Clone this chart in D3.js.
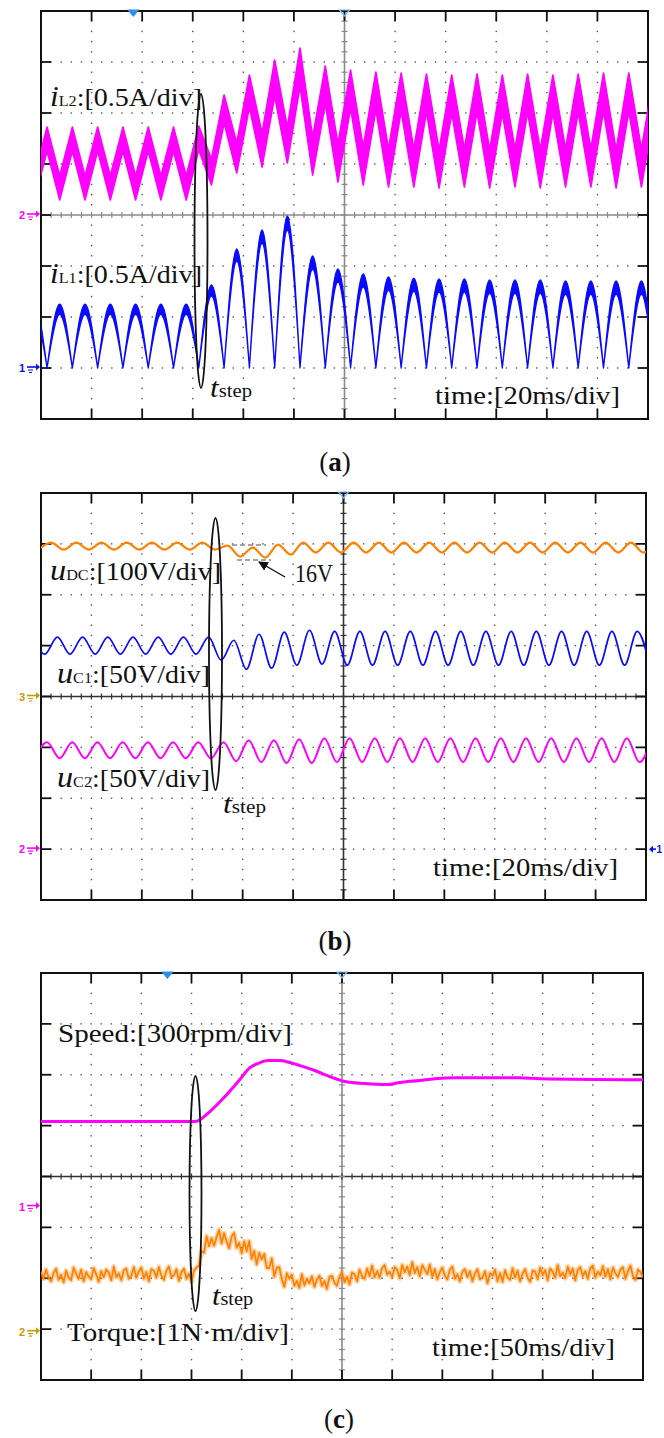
<!DOCTYPE html>
<html>
<head>
<meta charset="utf-8">
<title>Step response waveforms</title>
<script src="https://cdn.jsdelivr.net/npm/d3@7/dist/d3.min.js"></script>
<style>
  html, body { margin: 0; padding: 0; background: #fff; }
  svg { display: block; }
</style>
</head>
<body>
<svg id="fig" width="664" height="1438"></svg>
<script>
// ---------- (a) inductor currents [A], 20 ms/div ----------
// iL2: ripple band, centre value at each peak / trough
const iL2Time = [-2.6, 2.4, 7.4, 12.4, 17.4, 22.4, 27.4, 32.4, 37.4, 42.4, 47.4, 52.4, 57.4, 62.4, 67.4, 72.4, 77.4, 82.4, 87.4, 92.4, 97.4, 102.4, 107.4, 112.4, 117.4, 122.4, 127.4, 132.4, 137.4, 142.4, 147.4, 152.4, 157.4, 162.4, 167.4, 172.4, 177.4, 182.4, 187.4, 192.4, 197.4, 202.4, 207.4, 212.4, 217.4, 222.4, 227.4, 232.4, 237.4, 242.4];
const iL2Value = [0.265, 0.745, 0.265, 0.745, 0.265, 0.745, 0.265, 0.745, 0.265, 0.745, 0.265, 0.745, 0.265, 0.755, 0.422, 1.039, 0.559, 1.216, 0.637, 1.343, 0.686, 1.451, 0.578, 1.275, 0.510, 1.235, 0.480, 1.216, 0.461, 1.206, 0.461, 1.196, 0.451, 1.186, 0.461, 1.196, 0.451, 1.186, 0.461, 1.196, 0.451, 1.186, 0.461, 1.196, 0.461, 1.206, 0.451, 1.206, 0.461, 1.196];
const iL2Ripple = [0.235, 0.235, 0.235, 0.235, 0.235, 0.235, 0.235, 0.235, 0.235, 0.235, 0.235, 0.235, 0.235, 0.235, 0.255, 0.275, 0.294, 0.314, 0.333, 0.353, 0.353, 0.373, 0.373, 0.373, 0.373, 0.373, 0.373, 0.373, 0.373, 0.373, 0.373, 0.373, 0.373, 0.373, 0.373, 0.373, 0.373, 0.373, 0.373, 0.373, 0.373, 0.373, 0.373, 0.373, 0.373, 0.373, 0.373, 0.373, 0.373, 0.373];
// iL1: rectified arches between zero crossings
const iL1Cusp = [-7.6, 2.4, 12.4, 22.4, 32.4, 42.4, 52.4, 62.4, 72.4, 82.4, 92.4, 102.4, 112.4, 122.4, 132.4, 142.4, 152.4, 162.4, 172.4, 182.4, 192.4, 202.4, 212.4, 222.4, 232.4, 242.4];
const iL1Peak = [0.627, 0.627, 0.627, 0.627, 0.627, 0.627, 0.627, 0.814, 1.167, 1.353, 1.490, 1.098, 0.971, 0.922, 0.892, 0.882, 0.873, 0.873, 0.863, 0.863, 0.863, 0.853, 0.853, 0.853, 0.853];
const iL1Ripple = [0.10, 0.10, 0.10, 0.10, 0.10, 0.10, 0.10, 0.11, 0.12, 0.13, 0.14, 0.13, 0.13, 0.13, 0.13, 0.13, 0.13, 0.13, 0.13, 0.13, 0.13, 0.13, 0.13, 0.13, 0.13];

// ---------- (b) voltages [V], 20 ms/div ----------
const uDCTime = [-1, 4, 9, 14, 19, 24, 29, 34, 39, 44, 49, 54, 59, 64, 69, 74, 79, 84, 89, 94, 99, 104, 109, 114, 119, 124, 129, 134, 139, 144, 149, 154, 159, 164, 169, 174, 179, 184, 189, 194, 199, 204, 209, 214, 219, 224, 229, 234, 239, 244];
const uDCValue = [288.8, 302.6, 288.8, 302.6, 288.8, 302.6, 288.8, 302.6, 288.8, 302.6, 288.8, 302.6, 288.8, 302.6, 288.8, 296.7, 275.0, 292.7, 273.0, 298.6, 279.0, 302.6, 282.9, 302.6, 282.9, 302.6, 282.9, 302.6, 282.9, 302.6, 282.9, 302.6, 282.9, 302.6, 282.9, 302.6, 282.9, 302.6, 282.9, 302.6, 282.9, 302.6, 282.9, 302.6, 282.9, 302.6, 282.9, 302.6, 282.9, 302.6];
const uC1Time = [-3.5, 1.5, 6.5, 11.5, 16.5, 21.5, 26.5, 31.5, 36.5, 41.5, 46.5, 51.5, 56.5, 61.5, 66.5, 71.5, 76.5, 81.5, 86.5, 91.5, 96.5, 101.5, 106.5, 111.5, 116.5, 121.5, 126.5, 131.5, 136.5, 141.5, 146.5, 151.5, 156.5, 161.5, 166.5, 171.5, 176.5, 181.5, 186.5, 191.5, 196.5, 201.5, 206.5, 211.5, 216.5, 221.5, 226.5, 231.5, 236.5, 241.5];
const uC1Value = [208.3, 191.6, 208.3, 191.6, 208.3, 191.6, 208.3, 191.6, 208.3, 191.6, 208.3, 191.6, 208.3, 191.6, 208.3, 185.7, 205.3, 176.8, 211.2, 177.8, 213.2, 180.8, 215.1, 181.7, 214.1, 180.8, 214.1, 180.8, 214.1, 180.8, 214.1, 180.8, 214.1, 180.8, 214.1, 180.8, 214.1, 180.8, 214.1, 180.8, 214.1, 180.8, 214.1, 180.8, 214.1, 180.8, 214.1, 180.8, 214.1, 180.8];
const uC2Time = [-2.6, 2.4, 7.4, 12.4, 17.4, 22.4, 27.4, 32.4, 37.4, 42.4, 47.4, 52.4, 57.4, 62.4, 67.4, 72.4, 77.4, 82.4, 87.4, 92.4, 97.4, 102.4, 107.4, 112.4, 117.4, 122.4, 127.4, 132.4, 137.4, 142.4, 147.4, 152.4, 157.4, 162.4, 167.4, 172.4, 177.4, 182.4, 187.4, 192.4, 197.4, 202.4, 207.4, 212.4, 217.4, 222.4, 227.4, 232.4, 237.4, 242.4];
const uC2Value = [89.4, 105.1, 89.4, 105.1, 89.4, 105.1, 89.4, 105.1, 89.4, 105.1, 89.4, 105.1, 89.4, 105.1, 89.4, 105.1, 86.4, 107.1, 85.5, 107.1, 84.5, 108.1, 84.5, 109.0, 85.5, 109.0, 85.5, 109.0, 85.5, 109.0, 85.5, 109.0, 85.5, 109.0, 85.5, 109.0, 85.5, 109.0, 85.5, 109.0, 85.5, 109.0, 85.5, 109.0, 85.5, 109.0, 85.5, 109.0, 85.5, 109.0];

// ---------- (c) speed [rpm] and torque [N·m], 50 ms/div ----------
const speedTime = [0, 153.4, 168.3, 183.3, 198.2, 208.2, 216.1, 226.1, 238.0, 248.0, 258.0, 272.9, 287.9, 302.8, 322.7, 344.6, 357.6, 377.5, 392.4, 412.4, 477.1, 497.0, 600];
const speedValue = [501, 501, 560, 648, 749, 819, 843, 861, 861, 849, 831, 802, 766, 737, 725, 719, 731, 743, 754, 760, 760, 754, 748];
// torque samples every 2.5 ms
const torqueValue = [
  1.18, 1.04, 1.22, 1.07, 0.99, 1.15, 1.24, 1.02, 1.12, 0.97,
  1.20, 1.07, 1.01, 1.26, 1.14, 1.04, 1.22, 0.99, 1.17, 1.09,
  1.03, 1.25, 1.13, 0.98, 1.19, 1.07, 1.22, 1.16, 1.01, 1.28,
  1.07, 1.15, 1.01, 1.21, 1.24, 1.04, 1.10, 1.27, 1.06, 1.18,
  1.26, 1.04, 1.17, 0.99, 1.23, 1.20, 1.06, 1.27, 1.10, 1.02,
  1.20, 1.28, 1.07, 1.11, 1.23, 1.00, 1.17, 1.24, 1.04, 1.14,
  0.98, 1.20, 1.26, 1.30, 1.58, 1.55, 1.88, 1.68, 1.84, 1.69,
  1.86, 2.00, 1.73, 1.94, 1.77, 1.64, 1.87, 1.94, 1.65, 1.75,
  1.54, 1.78, 1.58, 1.78, 1.43, 1.59, 1.32, 1.55, 1.42, 1.53,
  1.25, 1.25, 1.44, 1.08, 1.26, 1.27, 1.03, 0.88, 1.15, 1.04,
  1.12, 0.90, 1.00, 0.86, 1.13, 0.91, 1.04, 0.95, 1.09, 0.88,
  1.02, 1.10, 0.90, 1.00, 0.84, 1.08, 1.10, 0.96, 0.90, 1.08,
  1.17, 0.97, 1.08, 0.93, 1.16, 1.13, 0.99, 1.22, 1.09, 1.04,
  1.24, 1.09, 1.30, 1.07, 1.19, 1.06, 1.25, 1.31, 1.12, 1.18,
  1.07, 1.27, 1.22, 1.05, 1.31, 1.17, 1.28, 1.11, 1.37, 1.15,
  1.27, 1.09, 1.31, 1.22, 1.13, 1.32, 1.08, 1.23, 1.03, 1.17,
  1.26, 1.10, 1.03, 1.22, 1.28, 1.04, 1.13, 0.99, 1.18, 1.23,
  1.07, 1.19, 0.99, 1.14, 1.23, 1.03, 1.07, 1.19, 0.95, 1.15,
  1.10, 1.22, 0.99, 1.15, 0.98, 1.21, 1.07, 1.02, 1.25, 1.06,
  1.20, 0.99, 1.14, 1.23, 1.06, 0.98, 1.20, 1.18, 1.03, 1.26,
  1.11, 1.21, 1.01, 1.24, 1.18, 1.06, 1.31, 1.09, 1.16, 1.05,
  1.28, 1.12, 1.24, 1.01, 1.22, 1.27, 1.09, 1.19, 1.04, 1.25,
  1.30, 1.06, 1.18, 1.11, 1.29, 1.08, 1.23, 1.03, 1.26, 1.15,
  1.07, 1.22, 1.27, 1.04, 1.19, 1.30, 1.09, 1.02, 1.22, 1.17,
  1.07
];
const torqueStep = 2.5;

// ---------- text ----------
const captions = [["(", "a", ")"], ["(", "b", ")"], ["(", "c", ")"]];

// ---------- drawing ----------
const FONT = "'Liberation Serif', 'Times New Roman', serif";
const MAGENTA = "#ff00ff", BLUE = "#0a0aff", ORANGE = "#ff8000", GOLD = "#c89a00", TRIG = "#2e8fe6";
const svg = d3.select("#fig");
const defs = svg.append("defs");

const screens = {
  a: { left: 41, top: 11, right: 648, bottom: 419, msPerDiv: 20, hCentre: "#8a8a8a", vCentre: "#8a8a8a" },
  b: { left: 41, top: 493, right: 646, bottom: 900, msPerDiv: 20, hCentre: "#333", vCentre: "#333" },
  c: { left: 41, top: 973, right: 643, bottom: 1380, msPerDiv: 50, hCentre: "#333", vCentre: "#8a8a8a" }
};

function drawScreen(id) {
  const s = screens[id];
  const span = 12 * s.msPerDiv;
  const x = d3.scaleLinear().domain([0, span]).range([s.left, s.right]);
  const y = d3.scaleLinear().domain([-4, 4]).range([s.bottom, s.top]);
  const g = svg.append("g").attr("class", "screen-" + id);
  g.append("rect").attr("x", s.left).attr("y", s.top)
    .attr("width", s.right - s.left).attr("height", s.bottom - s.top).attr("fill", "#fff");

  defs.append("clipPath").attr("id", "clip-" + id).append("rect")
    .attr("x", s.left).attr("y", s.top).attr("width", s.right - s.left).attr("height", s.bottom - s.top);

  const cols = d3.range(0, 13).map(c => c * s.msPerDiv);
  const rows = d3.range(-4, 5);
  const minorT = d3.range(0, 61).map(k => k * s.msPerDiv / 5);
  const minorV = d3.range(-20, 21).map(k => k / 5);

  // dotted graticule
  const dots = [];
  cols.forEach((c, ci) => {
    if (ci === 0 || ci === 12 || ci === 6) return;
    minorV.forEach((v, k) => { if (k > 0 && k < 40) dots.push([x(c), y(v)]); });
  });
  rows.forEach(r => {
    if (r === -4 || r === 4 || r === 0) return;
    minorT.forEach((t, k) => { if (k > 0 && k < 60 && k % 5 !== 0) dots.push([x(t), y(r)]); });
  });
  g.append("g").selectAll("rect").data(dots).join("rect")
    .attr("x", d => d[0] - 0.7).attr("y", d => d[1] - 0.7)
    .attr("width", 1.4).attr("height", 1.4).attr("fill", "#555");

  // centre cross with minor ticks
  const cx = x(span / 2), cy = y(0);
  g.append("line").attr("x1", s.left).attr("x2", s.right).attr("y1", cy).attr("y2", cy)
    .attr("stroke", s.hCentre).attr("stroke-width", 1.4);
  g.append("line").attr("x1", cx).attr("x2", cx).attr("y1", s.top).attr("y2", s.bottom)
    .attr("stroke", s.vCentre).attr("stroke-width", 1.6);
  g.append("g").selectAll("line").data(minorT.slice(1, -1)).join("line")
    .attr("x1", d => x(d)).attr("x2", d => x(d)).attr("y1", cy - 3).attr("y2", cy + 3)
    .attr("stroke", s.hCentre).attr("stroke-width", 1.2);
  g.append("g").selectAll("line").data(minorV.slice(1, -1)).join("line")
    .attr("x1", cx - 3).attr("x2", cx + 3).attr("y1", d => y(d)).attr("y2", d => y(d))
    .attr("stroke", s.vCentre).attr("stroke-width", 1.2);

  // major ticks on the frame
  const tk = g.append("g").attr("stroke", "#111").attr("stroke-width", 1.8);
  cols.slice(1, -1).forEach(c => {
    tk.append("line").attr("x1", x(c)).attr("x2", x(c)).attr("y1", s.top).attr("y2", s.top + 10);
    tk.append("line").attr("x1", x(c)).attr("x2", x(c)).attr("y1", s.bottom - 10).attr("y2", s.bottom);
  });
  rows.slice(1, -1).forEach(r => {
    tk.append("line").attr("x1", s.left).attr("x2", s.left + 10).attr("y1", y(r)).attr("y2", y(r));
    tk.append("line").attr("x1", s.right - 10).attr("x2", s.right).attr("y1", y(r)).attr("y2", y(r));
  });
  g.append("rect").attr("x", s.left).attr("y", s.top)
    .attr("width", s.right - s.left).attr("height", s.bottom - s.top)
    .attr("fill", "none").attr("stroke", "#111").attr("stroke-width", 2);

  const traces = svg.append("g").attr("clip-path", `url(#clip-${id})`);
  const over = svg.append("g");
  return { x, y, s, traces, over };
}

// channel ground marker on the left edge: digit + arrow with ground bars
function groundMark(scr, level, label, color) {
  const yy = scr.y(level), x0 = scr.s.left;
  const g = scr.over.append("g");
  g.append("text").attr("x", x0 - 16).attr("y", yy + 4).attr("text-anchor", "end")
    .attr("font-family", "'Liberation Sans', Arial, sans-serif").attr("font-weight", "bold")
    .attr("font-size", 11).attr("fill", color).text(label);
  g.append("path").attr("d", `M${x0 - 14},${yy - 1} H${x0 - 4}`).attr("stroke", color).attr("stroke-width", 1.6);
  g.append("path").attr("d", `M${x0 - 5},${yy - 4.5} L${x0 - 1},${yy - 1} L${x0 - 5},${yy + 2.5} Z`).attr("fill", color);
  g.append("path").attr("d", `M${x0 - 13},${yy + 2} H${x0 - 8} M${x0 - 12},${yy + 4.5} H${x0 - 9}`)
    .attr("stroke", color).attr("stroke-width", 1.2);
}

// trigger position marker on the top edge
function trigMark(scr, t, filled) {
  const xx = scr.x(t), yy = scr.s.top;
  scr.over.append("path").attr("d", `M${xx - 5},${yy - 1} L${xx + 5},${yy - 1} L${xx},${yy + 5} Z`)
    .attr("fill", filled ? TRIG : "none").attr("stroke", filled ? TRIG : "#7fb6ee").attr("stroke-width", 1.2);
}

// label built from styled pieces; width stretches it to the printed length
function label(g, x, y, parts, width) {
  const t = g.append("text").attr("x", x).attr("y", y).attr("font-family", FONT).attr("fill", "#111");
  parts.forEach(p => {
    t.append("tspan").text(p[0]).attr("font-size", p[1])
      .attr("font-style", p[2] === "i" ? "italic" : null)
      .attr("font-weight", p[2] === "b" ? "bold" : null);
  });
  if (width) t.attr("textLength", width).attr("lengthAdjust", "spacingAndGlyphs");
  return t;
}

function ellipse(scr, cx, cy, rx, ry) {
  scr.over.append("ellipse").attr("cx", cx).attr("cy", cy).attr("rx", rx).attr("ry", ry)
    .attr("fill", "none").attr("stroke", "#111").attr("stroke-width", 1.8);
}

function caption(i, cx, y) {
  const t = svg.append("text").attr("x", cx).attr("y", y).attr("text-anchor", "middle")
    .attr("font-family", FONT).attr("font-size", 27).attr("fill", "#111");
  captions[i].forEach((c, k) => t.append("tspan").text(c).attr("font-weight", k === 1 ? "bold" : null));
}

// ================= panel (a) =================
const A = drawScreen("a");
{
  const ch2 = { off: 0, per: 0.5 }, ch1 = { off: -3, per: 0.5 };
  const iL2 = iL2Time.map((t, i) => ({ t, v: iL2Value[i], r: iL2Ripple[i] }));
  const band = d3.area()
    .x(d => A.x(d.t))
    .y0(d => A.y(ch2.off + (d.v - d.r / 2) / ch2.per))
    .y1(d => A.y(ch2.off + (d.v + d.r / 2) / ch2.per));
  A.traces.append("path").attr("d", band(iL2)).attr("fill", MAGENTA)
    .attr("stroke", MAGENTA).attr("stroke-width", 1.6).attr("stroke-linejoin", "round");

  const arch = d3.line().x(d => A.x(d[0])).y(d => A.y(ch1.off + d[1] / ch1.per)).curve(d3.curveNatural);
  let dPath = "";
  iL1Peak.forEach((pk, k) => {
    const c0 = iL1Cusp[k], c1 = iL1Cusp[k + 1], m = (c0 + c1) / 2;
    const outer = arch([[c0, 0], [m, pk], [c1, 0]]);
    const inner = arch([[c1, 0], [m, pk - iL1Ripple[k]], [c0, 0]]);
    dPath += outer + inner.replace(/^M/, "L") + "Z";
  });
  A.traces.append("path").attr("d", dPath).attr("fill", BLUE)
    .attr("stroke", BLUE).attr("stroke-width", 1.3).attr("stroke-linejoin", "round");

  groundMark(A, ch2.off, "2", MAGENTA);
  groundMark(A, ch1.off, "1", BLUE);
  trigMark(A, 36.5, true);
  trigMark(A, 120, false);
  A.over.append("path").attr("d", `M${A.x(97.6) - 2.5},${A.y(0) + 5} L${A.x(97.6) + 2.5},${A.y(0) + 5} L${A.x(97.6)},${A.y(0) + 1} Z`).attr("fill", BLUE);

  ellipse(A, 201, 241, 6.5, 147);
  label(A.over, 50, 106, [["i", 29, "i"], ["L2", 15], [":[0.5A/div]", 26]], 152);
  label(A.over, 50, 283, [["i", 29, "i"], ["L1", 15], [":[0.5A/div]", 26]], 152);
  label(A.over, 210, 397, [["t", 27, "i"], ["step", 18]], 42);
  label(A.over, 435, 404, [["time:[20ms/div]", 26]], 185);
}
caption(0, 335, 471);

// ================= panel (b) =================
const B = drawScreen("b");
{
  const ch3 = { off: 0, per: 100 }, ch1 = { off: -3, per: 50 }, ch2 = { off: -3, per: 50 };
  const curve = (ch) => d3.line().x(d => B.x(d[0])).y(d => B.y(ch.off + d[1] / ch.per)).curve(d3.curveMonotoneX);
  B.traces.append("path").attr("d", curve(ch3)(uDCTime.map((t, i) => [t, uDCValue[i]])))
    .attr("fill", "none").attr("stroke", ORANGE).attr("stroke-width", 2.2);
  B.traces.append("path").attr("d", curve(ch1)(uC1Time.map((t, i) => [t, uC1Value[i]])))
    .attr("fill", "none").attr("stroke", BLUE).attr("stroke-width", 1.7);
  B.traces.append("path").attr("d", curve(ch2)(uC2Time.map((t, i) => [t, uC2Value[i]])))
    .attr("fill", "none").attr("stroke", MAGENTA).attr("stroke-width", 2);

  groundMark(B, ch3.off, "3", GOLD);
  groundMark(B, ch2.off, "2", MAGENTA);
  trigMark(B, 120, false);
  // channel 1 marker parked on the right edge
  const yr = B.y(ch1.off), xr = B.s.right;
  B.over.append("path").attr("d", `M${xr + 10},${yr} H${xr + 6}`).attr("stroke", BLUE).attr("stroke-width", 1.6);
  B.over.append("path").attr("d", `M${xr + 7},${yr - 3.5} L${xr + 3},${yr} L${xr + 7},${yr + 3.5} Z`).attr("fill", BLUE);
  B.over.append("text").attr("x", xr + 10.5).attr("y", yr + 4).attr("font-family", "'Liberation Sans', Arial, sans-serif")
    .attr("font-weight", "bold").attr("font-size", 10).attr("fill", BLUE).text("1");

  // 16 V dip annotation
  const dash = B.over.append("g").attr("stroke", "#888").attr("stroke-width", 1.4).attr("stroke-dasharray", "5 3");
  dash.append("line").attr("x1", 232).attr("x2", 266).attr("y1", 545).attr("y2", 545);
  dash.append("line").attr("x1", 237).attr("x2", 271).attr("y1", 560).attr("y2", 560);
  defs.append("marker").attr("id", "head").attr("viewBox", "0 0 10 10").attr("refX", 9).attr("refY", 5)
    .attr("markerWidth", 7).attr("markerHeight", 7).attr("orient", "auto")
    .append("path").attr("d", "M0,0 L10,5 L0,10 Z").attr("fill", "#111");
  B.over.append("line").attr("x1", 285).attr("y1", 577).attr("x2", 259).attr("y2", 562)
    .attr("stroke", "#111").attr("stroke-width", 1.4).attr("marker-end", "url(#head)");
  label(B.over, 295, 582, [["16V", 26]], 38);

  ellipse(B, 215.5, 654, 6.5, 136);
  label(B.over, 50, 580, [["u", 30, "i"], ["DC", 15], [":[100V/div]", 26]], 171);
  label(B.over, 57, 683, [["u", 30, "i"], ["C1", 15], [":[50V/div]", 26]], 153);
  label(B.over, 57, 787, [["u", 30, "i"], ["C2", 15], [":[50V/div]", 26]], 153);
  label(B.over, 223, 813, [["t", 27, "i"], ["step", 18]], 43);
  label(B.over, 433, 876, [["time:[20ms/div]", 26]], 185);
}
caption(1, 335, 950);

// ================= panel (c) =================
const C = drawScreen("c");
{
  const ch1 = { off: -0.59, per: 300 }, ch2 = { off: -3.05, per: 1 };
  const speedLine = d3.line().x(d => C.x(d[0])).y(d => C.y(ch1.off + d[1] / ch1.per)).curve(d3.curveMonotoneX);
  C.traces.append("path").attr("d", speedLine(speedTime.map((t, i) => [t, speedValue[i]])))
    .attr("fill", "none").attr("stroke", MAGENTA).attr("stroke-width", 3);

  // torque: soft halo under the sampled trace gives the dense-noise look of the scope
  const torqueLine = d3.line().x(d => C.x(d[0])).y(d => C.y(ch2.off + d[1] / ch2.per));
  const torquePts = torqueValue.map((v, i) => [i * torqueStep, v]);
  C.traces.append("path").attr("d", torqueLine(torquePts))
    .attr("fill", "none").attr("stroke", ORANGE).attr("stroke-width", 5).attr("stroke-opacity", 0.35)
    .attr("stroke-linejoin", "round");
  C.traces.append("path").attr("d", torqueLine(torquePts))
    .attr("fill", "none").attr("stroke", ORANGE).attr("stroke-width", 1.7).attr("stroke-linejoin", "round");

  groundMark(C, ch1.off, "1", MAGENTA);
  groundMark(C, ch2.off, "2", GOLD);
  trigMark(C, 126, true);
  trigMark(C, 300, false);

  ellipse(C, 195.5, 1193.5, 6, 117.5);
  label(C.over, 58, 1042, [["Speed:[300rpm/div]", 26]], 234);
  label(C.over, 212, 1305, [["t", 27, "i"], ["step", 18]], 41);
  label(C.over, 67, 1341, [["Torque:[1N·m/div]", 26]], 222);
  label(C.over, 432, 1356, [["time:[50ms/div]", 26]], 183);
}
caption(2, 339, 1428);
</script>
</body>
</html>
